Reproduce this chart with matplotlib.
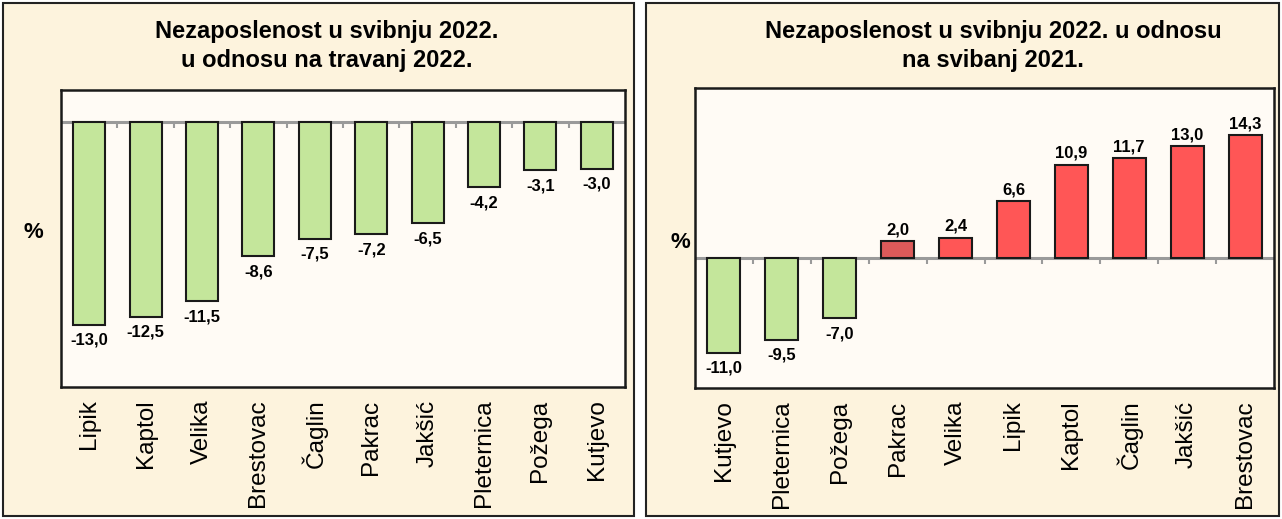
import matplotlib.pyplot as plt
from matplotlib.patches import Rectangle

plt.rcParams['font.family'] = ['Liberation Sans', 'DejaVu Sans']
NARROW = ['Liberation Sans Narrow', 'Liberation Sans', 'DejaVu Sans']

left_names = ['Lipik', 'Kaptol', 'Velika', 'Brestovac', 'Čaglin', 'Pakrac',
              'Jakšić', 'Pleternica', 'Požega', 'Kutjevo']
left_values = [-13.0, -12.5, -11.5, -8.6, -7.5, -7.2, -6.5, -4.2, -3.1, -3.0]

right_names = ['Kutjevo', 'Pleternica', 'Požega', 'Pakrac', 'Velika', 'Lipik',
               'Kaptol', 'Čaglin', 'Jakšić', 'Brestovac']
right_values = [-11.0, -9.5, -7.0, 2.0, 2.4, 6.6, 10.9, 11.7, 13.0, 14.3]

W, H = 1282, 519
fig = plt.figure(figsize=(W / 100, H / 100), dpi=100)
fig.patch.set_facecolor('white')

GREEN = '#c4e69b'
RED = '#ff5656'
RED_DARK = '#dc5a5a'
PANEL_BG = '#fdf3dd'
PLOT_BG = '#fffbf5'


def px(x0, y0, x1, y1):
    return [x0 / W, 1 - y1 / H, (x1 - x0) / W, (y1 - y0) / H]


# panel backgrounds
for x0, x1 in [(3, 634), (646, 1279)]:
    fig.patches.append(Rectangle((x0 / W, 3 / H), (x1 - x0) / W, (H - 6) / H,
                                 transform=fig.transFigure, facecolor=PANEL_BG,
                                 edgecolor='#222222', linewidth=1.5, zorder=-5))


def draw(ax, names, values, colors, ylim, tick_len, pct_xy):
    ax.set_facecolor(PLOT_BG)
    x = list(range(len(names)))
    ax.bar(x, values, width=0.57, color=colors, edgecolor='#1a1a1a',
           linewidth=1.5, zorder=3)
    ax.axhline(0, color='#9a9a9a', linewidth=2.2, zorder=2)
    ax.vlines([i + 0.5 for i in x[:-1]], -tick_len, 0, color='#9a9a9a',
              linewidth=1.5, zorder=2)
    ax.set_xlim(-0.5, len(names) - 0.5)
    ax.set_ylim(*ylim)
    for i, v in zip(x, values):
        lab = f'{v:.1f}'.replace('.', ',')
        if v < 0:
            ax.text(i, v - tick_len * 1.3, lab, ha='center', va='top', fontsize=12,
                    fontweight='bold', family=NARROW, zorder=4)
        else:
            ax.text(i, v + tick_len * 0.6, lab, ha='center', va='bottom', fontsize=12,
                    fontweight='bold', family=NARROW, zorder=4)
    ax.set_xticks(x)
    ax.set_xticklabels(names, rotation=90, fontsize=17.5)
    ax.tick_params(axis='x', length=0, pad=9)
    ax.set_yticks([])
    for s in ax.spines.values():
        s.set_linewidth(1.8)
        s.set_color('#1a1a1a')
    fig.text(pct_xy[0] / W, 1 - pct_xy[1] / H, '%', fontsize=16,
             fontweight='bold', ha='center', va='center')


ax1 = fig.add_axes(px(61, 90, 625, 387))
draw(ax1, left_names, left_values, [GREEN] * 10, (-17, 2.05), 0.4, (33, 232))
ax2 = fig.add_axes(px(695, 88, 1274, 388))
right_colors = [GREEN if v < 0 else RED for v in right_values]
right_colors[3] = RED_DARK
draw(ax2, right_names, right_values, right_colors, (-15.1, 19.8), 0.7, (680, 242))

fig.text(327 / W, 1 - 46 / H, 'Nezaposlenost u svibnju 2022.\nu odnosu na travanj 2022.',
         ha='center', va='center', fontsize=17, fontweight='bold', linespacing=1.3)
fig.text(993 / W, 1 - 46 / H, 'Nezaposlenost u svibnju 2022. u odnosu\nna svibanj 2021.',
         ha='center', va='center', fontsize=17, fontweight='bold', linespacing=1.3)

fig.savefig('out.png', dpi=100)
